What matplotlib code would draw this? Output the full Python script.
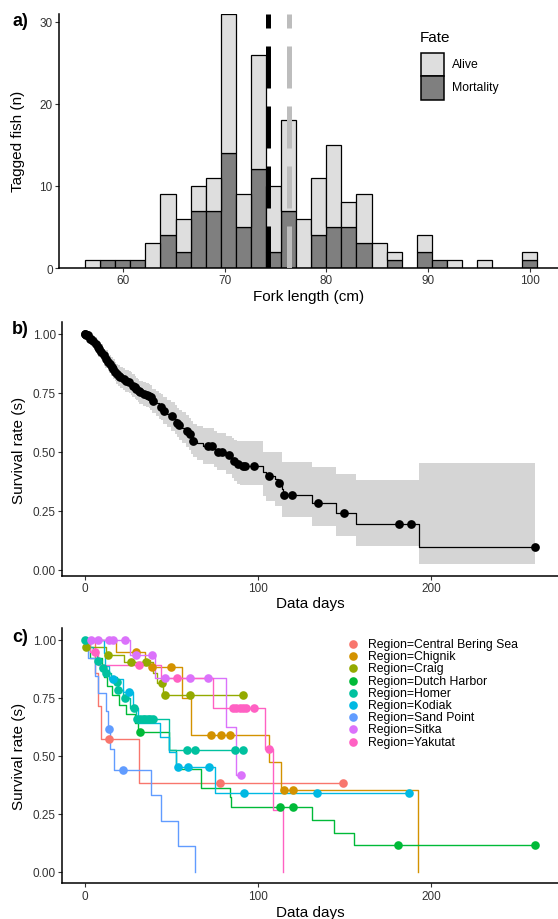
import numpy as np
import matplotlib
matplotlib.use("Agg")
import matplotlib.pyplot as plt
from matplotlib.lines import Line2D
from matplotlib.patches import Rectangle

plt.rcParams['font.family'] = ['Liberation Sans', 'DejaVu Sans']

# ---- panel a: fork length histogram ----
bin_lo = 56.3
bin_w = 1.481
mortality = [0, 1, 1, 1, 0, 4, 2, 7, 7, 14, 5, 12, 2, 7, 0, 4, 5, 5, 3, 0, 1, 0, 2, 1, 0, 0, 0, 0, 0, 1]
alive = [1, 0, 0, 0, 3, 5, 4, 3, 4, 17, 4, 14, 8, 11, 6, 7, 10, 3, 6, 3, 1, 0, 2, 0, 1, 0, 1, 0, 0, 1]
mean_black = 74.3
mean_grey = 76.37

# ---- panel b: overall survival ----
b_t = [0.8, 2.5, 3.0, 4.5, 5.5, 7.0, 8.0, 9.5, 10.5, 11.5, 12.0, 13.5, 14.2, 15.5, 16.2, 17.5,
       18.3, 19.5, 20.3, 22.0, 23.3, 25.5, 27.0, 27.5, 29.0, 29.7, 31.0, 31.7, 33.5, 35.5, 37.0,
       37.8, 39.0, 41.0, 43.0, 44.0, 45.5, 47.5, 50.0, 52.0, 53.2, 54.3, 56.0, 58.5, 60.3, 61.5,
       62.5, 65.0, 68.5, 75.0, 76.5, 81.5, 85.0, 86.0, 88.0, 90.0, 102.8, 105.0, 110.0, 111.5,
       114.0, 114.5, 131.2, 145.0, 156.6, 193.1]
b_s = [0.995, 0.985, 0.978, 0.968, 0.958, 0.945, 0.935, 0.922, 0.910, 0.900, 0.893, 0.882, 0.872,
       0.861, 0.850, 0.840, 0.829, 0.822, 0.815, 0.808, 0.800, 0.796, 0.788, 0.780, 0.773, 0.766,
       0.759, 0.752, 0.745, 0.740, 0.735, 0.730, 0.716, 0.705, 0.695, 0.688, 0.674, 0.662, 0.650,
       0.637, 0.624, 0.613, 0.602, 0.589, 0.575, 0.561, 0.547, 0.537, 0.525, 0.512, 0.500, 0.486,
       0.474, 0.462, 0.448, 0.441, 0.413, 0.396, 0.383, 0.369, 0.344, 0.318, 0.283, 0.242, 0.194,
       0.097]
b_upper = [1.0, 0.999, 0.996, 0.991, 0.985, 0.975, 0.967, 0.956, 0.945, 0.936, 0.930, 0.920, 0.911,
           0.901, 0.891, 0.882, 0.872, 0.866, 0.860, 0.854, 0.847, 0.843, 0.836, 0.828, 0.821,
           0.814, 0.808, 0.801, 0.795, 0.790, 0.786, 0.781, 0.768, 0.758, 0.749, 0.743, 0.730,
           0.720, 0.710, 0.699, 0.687, 0.677, 0.667, 0.656, 0.643, 0.631, 0.618, 0.610, 0.600,
           0.590, 0.579, 0.567, 0.557, 0.550, 0.547, 0.545, 0.497, 0.497, 0.497, 0.497, 0.455,
           0.455, 0.434, 0.405, 0.381, 0.452]
b_lower = [0.983, 0.968, 0.959, 0.945, 0.932, 0.915, 0.903, 0.888, 0.875, 0.864, 0.856, 0.844,
           0.833, 0.821, 0.809, 0.798, 0.786, 0.778, 0.770, 0.762, 0.753, 0.749, 0.740, 0.732,
           0.725, 0.718, 0.710, 0.703, 0.695, 0.690, 0.684, 0.679, 0.664, 0.652, 0.641, 0.633,
           0.618, 0.604, 0.590, 0.575, 0.561, 0.549, 0.537, 0.522, 0.507, 0.491, 0.476, 0.464,
           0.450, 0.434, 0.421, 0.405, 0.391, 0.376, 0.362, 0.358, 0.313, 0.290, 0.271, 0.271,
           0.222, 0.222, 0.184, 0.144, 0.099, 0.024]
b_censor = [0.0, 0.5, 1.0, 1.3, 2.0, 3.3, 4.0, 5.0, 6.4, 7.5, 8.4, 9.8, 11.0, 12.5, 13.8, 14.6,
            15.8, 16.6, 17.8, 18.7, 19.8, 20.7, 22.5, 23.8, 25.9, 27.9, 29.2, 30.0, 31.2, 32.0,
            34.1, 36.1, 37.3, 38.2, 39.6, 44.3, 45.8, 50.5, 53.6, 54.6, 59.3, 60.7, 62.8, 71.0,
            73.6, 77.2, 79.2, 83.3, 86.4, 88.4, 91.5, 92.5, 97.6, 106.3, 112.4, 115.1, 119.6,
            135.0, 149.5, 181.8, 188.3, 260.3]

# ---- panel c: survival by region ----
regions = ['Central Bering Sea', 'Chignik', 'Craig', 'Dutch Harbor', 'Homer', 'Kodiak',
           'Sand Point', 'Sitka', 'Yakutat']
region_colors = ['#F8766D', '#D39200', '#93AA00', '#00BA38', '#00C19F', '#00B9E3',
                 '#619CFF', '#DB72FB', '#FF61C3']

cbs_t = [6.0, 7.7, 9.6, 31.7]
cbs_s = [0.857, 0.714, 0.571, 0.381]
cbs_c = [14.0, 78.0, 149.4]

chignik_t = [18.0, 35.0, 38.0, 56.4, 61.5, 106.4, 113.5, 192.3]
chignik_s = [0.947, 0.915, 0.882, 0.748, 0.589, 0.471, 0.353, 0.0]
chignik_c = [29.8, 39.0, 50.0, 73.1, 78.9, 84.1, 115.4, 120.2]

craig_t = [0.5, 12.5, 23.0, 39.5, 42.0, 45.5]
craig_s = [0.971, 0.935, 0.906, 0.855, 0.813, 0.762]
craig_c = [1.0, 13.5, 26.9, 35.6, 44.5, 46.2, 60.6, 91.2]

dutch_t = [0.5, 3.0, 10.0, 11.0, 13.0, 16.0, 20.0, 24.0, 29.0, 31.0, 49.0, 52.9, 67.3, 83.7,
           84.6, 131.4, 143.8, 155.8]
dutch_s = [0.96, 0.92, 0.88, 0.84, 0.80, 0.76, 0.72, 0.68, 0.64, 0.603, 0.523, 0.442, 0.362,
           0.322, 0.281, 0.225, 0.169, 0.113]
dutch_c = [32.1, 112.9, 120.2, 181.0, 260.3]

homer_t = [3.0, 5.0, 7.0, 9.0, 11.0, 15.0, 18.5, 19.3, 22.0, 26.0, 29.5, 48.5]
homer_s = [0.97, 0.94, 0.91, 0.88, 0.855, 0.84, 0.82, 0.783, 0.748, 0.704, 0.657, 0.525]
homer_c = [0.0, 7.7, 10.6, 12.5, 18.8, 19.6, 23.1, 28.5, 30.5, 32.0, 33.5, 35.0, 36.5, 38.0,
           39.3, 59.0, 63.9, 86.6, 91.3]

kodiak_t = [11.0, 12.0, 14.0, 22.0, 28.0, 31.0, 43.3, 48.7, 52.9, 75.6]
kodiak_s = [0.944, 0.889, 0.833, 0.774, 0.708, 0.643, 0.579, 0.515, 0.450, 0.338]
kodiak_c = [16.3, 25.6, 54.2, 60.0, 71.7, 91.9, 134.0, 187.5]

sand_t = [1.9, 5.8, 8.0, 12.5, 13.5, 14.5, 17.3, 38.5, 44.0, 54.0, 63.5]
sand_s = [0.923, 0.846, 0.769, 0.692, 0.615, 0.527, 0.44, 0.33, 0.22, 0.11, 0.0]
sand_c = [14.0, 22.0]

sitka_t = [26.0, 40.4, 81.4, 87.5]
sitka_s = [0.935, 0.837, 0.625, 0.419]
sitka_c = [3.9, 7.7, 14.4, 16.3, 23.1, 29.8, 39.0, 46.2, 60.6, 71.2, 90.4]

yakutat_t = [3.0, 8.0, 44.2, 74.0, 103.9, 108.7, 114.8]
yakutat_s = [0.947, 0.892, 0.834, 0.704, 0.528, 0.264, 0.0]
yakutat_c = [5.8, 31.5, 53.5, 85.6, 87.5, 89.5, 91.5, 93.3, 97.7, 106.2]

region_data = [(cbs_t, cbs_s, cbs_c), (chignik_t, chignik_s, chignik_c),
               (craig_t, craig_s, craig_c), (dutch_t, dutch_s, dutch_c),
               (homer_t, homer_s, homer_c), (kodiak_t, kodiak_s, kodiak_c),
               (sand_t, sand_s, sand_c), (sitka_t, sitka_s, sitka_c),
               (yakutat_t, yakutat_s, yakutat_c)]

W, H = 558, 920


def box(left, top, right, bottom):
    return [left / W, 1 - bottom / H, (right - left) / W, (bottom - top) / H]


def step_xy(t, s, end, start=1.0):
    x = [0.0] + list(t) + [max(end, t[-1])]
    y = [start] + list(s) + [s[-1]]
    return x, y


def level_at(t, s, times):
    lv = np.concatenate([[1.0], s])
    idx = np.searchsorted(t, times, side='right')
    return lv[idx]


def style(ax):
    for side in ['top', 'right']:
        ax.spines[side].set_visible(False)
    for side in ['left', 'bottom']:
        ax.spines[side].set_linewidth(1.1)
    ax.tick_params(length=3, width=0.8, pad=1.5, labelsize=8.5, colors='#333333')


fig = plt.figure(figsize=(W / 100, H / 100), dpi=100)

# ===== a) =====
ax = fig.add_axes(box(59, 14.5, 558, 269))
mort = np.array(mortality)
alv = np.array(alive)
centers = bin_lo + bin_w * (np.arange(len(mort)) + 0.5)
m = mort > 0
ax.bar(centers[m], mort[m], width=bin_w, color='#7F7F7F', edgecolor='black', lw=0.9, zorder=2)
a = alv > 0
ax.bar(centers[a], alv[a], bottom=mort[a], width=bin_w, color='#DEDEDE', edgecolor='black',
       lw=0.9, zorder=2)
ax.plot([mean_black, mean_black], [0, 31], color='black', lw=3.6, ls=(0, (8.4, 3.6)),
        dash_capstyle='butt', zorder=3)
ax.plot([mean_grey, mean_grey], [0, 31], color='#BDBDBD', lw=3.6, ls=(0, (8.4, 3.6)),
        dash_capstyle='butt', zorder=3)
ax.set_xlim(53.74, 102.76)
ax.set_ylim(0, 31)
ax.set_xticks([60, 70, 80, 90, 100])
ax.set_yticks([0, 10, 20, 30])
style(ax)
ax.set_xlabel('Fork length (cm)', fontsize=11, va='center')
ax.xaxis.set_label_coords(0.5, (269 - 297) / 254.5)
ax.set_ylabel('Tagged fish (n)', fontsize=11, va='center')
ax.yaxis.set_label_coords((18.5 - 59) / 499, 0.5)

# Fate legend
fig.text(420 / W, 1 - 38 / H, 'Fate', fontsize=11, ha='left', va='center')
for i, (lab, col) in enumerate([('Alive', '#DEDEDE'), ('Mortality', '#7F7F7F')]):
    top = 53.5 + i * 23.5
    fig.add_artist(Rectangle((420.5 / W, 1 - (top + 23.5) / H), 23 / W, 23.5 / H,
                             transform=fig.transFigure, facecolor=col, edgecolor='black', lw=1.1))
    fig.text(452 / W, 1 - (top + 11.5) / H, lab, fontsize=8.8, ha='left', va='center')

# ===== b) =====
ax = fig.add_axes(box(62, 323.2, 558, 576.7))
bx, bup = step_xy(b_t, b_upper, b_censor[-1])
_, blo = step_xy(b_t, b_lower, b_censor[-1])
ax.fill_between(bx, blo, bup, step='post', color='#D5D5D5', lw=0, zorder=1)
x, y = step_xy(b_t, b_s, b_censor[-1])
ax.plot(x, y, drawstyle='steps-post', color='black', lw=0.9, zorder=2)
ax.plot(b_censor, level_at(b_t, b_s, b_censor), 'o', color='black', ms=6.3, mew=0,
        zorder=3, clip_on=False)
ax.set_xlim(-13.0, 273.3)
ax.set_ylim(-0.025, 1.049)
ax.set_xticks([0, 100, 200])
ax.set_yticks([0, 0.25, 0.5, 0.75, 1.0])
ax.set_yticklabels(['0.00', '0.25', '0.50', '0.75', '1.00'])
style(ax)
ax.set_xlabel('Data days', fontsize=11, va='center')
ax.xaxis.set_label_coords(0.5, (576.7 - 604) / 253.5)
ax.set_ylabel('Survival rate (s)', fontsize=11, va='center')
ax.yaxis.set_label_coords((19 - 62) / 496, 0.5)

# ===== c) =====
ax = fig.add_axes(box(62, 629.2, 558, 884.3))
for (t, s, c), col in zip(region_data, region_colors):
    x, y = step_xy(t, s, max(c))
    ax.plot(x, y, drawstyle='steps-post', color=col, lw=1.0, zorder=2)
for (t, s, c), col in zip(region_data, region_colors):
    ax.plot(c, level_at(t, s, c), 'o', color=col, ms=6.2, mew=0, zorder=3, clip_on=False)
ax.set_xlim(-13.0, 273.3)
ax.set_ylim(-0.05, 1.05)
ax.set_xticks([0, 100, 200])
ax.set_yticks([0, 0.25, 0.5, 0.75, 1.0])
ax.set_yticklabels(['0.00', '0.25', '0.50', '0.75', '1.00'])
style(ax)
ax.set_xlabel('Data days', fontsize=11, va='center')
ax.xaxis.set_label_coords(0.5, (884.3 - 913) / 255.1)
ax.set_ylabel('Survival rate (s)', fontsize=11, va='center')
ax.yaxis.set_label_coords((19 - 62) / 496, 0.5)

# region legend
for i, (reg, col) in enumerate(zip(regions, region_colors)):
    yy = 1 - (645 + i * 12.2) / H
    fig.add_artist(Line2D([353 / W], [yy], marker='o', color=col, ms=6.2, mew=0,
                          transform=fig.transFigure))
    fig.text(368 / W, yy, 'Region=' + reg, fontsize=8.8, ha='left', va='center')

# panel tags
for lab, yy in [('a)', 22), ('b)', 330), ('c)', 638)]:
    fig.text(12 / W, 1 - yy / H, lab, fontsize=13, fontweight='bold', ha='left', va='center')

fig.savefig('out.png', dpi=100)
